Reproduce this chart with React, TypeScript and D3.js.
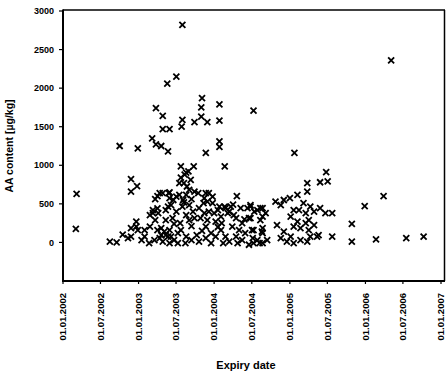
import React from "react";
import * as d3 from "d3";

// Expiry date as decimal year, AA content in µg/kg
const points: [number, number][] = [
  [2002.18, 630], [2002.17, 175],
  [2003.58, 2820], [2003.50, 2150], [2003.38, 2060],
  [2003.84, 1870], [2004.07, 1790], [2003.83, 1750], [2003.23, 1740], [2003.32, 1640],
  [2003.83, 1630], [2004.07, 1580], [2003.91, 1560], [2003.74, 1560], [2003.58, 1590],
  [2003.57, 1500], [2003.32, 1470], [2003.41, 1470],
  [2002.75, 1250], [2002.99, 1220], [2003.18, 1350], [2003.23, 1270], [2003.30, 1250],
  [2003.39, 1180], [2004.07, 1310], [2004.07, 1240], [2003.89, 1160], [2004.52, 1710],
  [2005.06, 1160], [2005.48, 910], [2005.40, 780], [2005.50, 790], [2005.23, 770],
  [2006.24, 600], [2005.99, 470], [2005.82, 240], [2005.56, 75], [2005.82, 10],
  [2006.14, 40], [2006.54, 55], [2006.77, 75], [2006.34, 2360],
  [2002.90, 820], [2002.98, 730], [2002.90, 660],
  [2003.25, 600], [2003.32, 640], [2003.41, 650],
  [2003.19, 380], [2003.25, 440],
  [2002.97, 270], [2002.99, 160], [2002.97, 205], [2002.90, 185],
  [2002.79, 100], [2002.86, 55], [2002.90, 75],
  [2002.62, 10], [2002.71, 0],
  [2003.04, 30], [2003.08, 75], [2003.14, -10], [2003.21, 30], [2003.28, 55], [2003.32, 10],
  [2003.39, 75], [2003.41, -10], [2003.47, 30], [2003.52, -10],
  [2003.30, 185], [2003.34, 140], [2003.41, 160], [2003.36, 95], [2003.43, 75], [2003.30, 95],
  [2003.25, 160], [2003.15, 205], [2003.08, 160],
  [2003.56, 160], [2003.63, 75], [2003.70, 30], [2003.62, -10], [2003.77, 95], [2003.80, 10],
  [2003.89, 205], [2003.96, 120], [2003.89, 55], [2004.02, 75], [2003.96, -10],
  [2004.09, 160], [2004.15, 75], [2004.12, -10], [2004.20, 10], [2004.29, 75], [2004.31, -10],
  [2004.37, 30], [2004.46, -30], [2004.41, 120],
  [2004.52, 160], [2004.57, 30], [2004.64, 120], [2004.64, -10], [2004.52, -10],
  [2003.56, 985], [2003.73, 985], [2004.14, 985], [2003.63, 905], [2003.56, 840], [2003.60, 770],
  [2003.54, 770], [2004.30, 600], [2003.28, 640], [2003.41, 575], [2003.22, 560],
  [2003.67, 680], [2003.74, 660], [2003.63, 615], [2003.54, 615], [2003.59, 550],
  [2003.89, 640], [2003.98, 595], [2003.87, 575], [2003.91, 530],
  [2004.07, 465], [2004.15, 445], [2004.22, 465], [2004.20, 400],
  [2004.48, 465], [2004.61, 445], [2004.64, 335], [2004.48, 315], [2004.53, 400],
  [2003.19, 420], [2003.15, 355], [2003.22, 290], [2003.26, 380],
  [2003.36, 420], [2003.43, 485], [2003.50, 400], [2003.45, 315], [2003.36, 290],
  [2003.58, 465], [2003.67, 485], [2003.72, 400], [2003.63, 355], [2003.74, 315], [2003.67, 290],
  [2003.80, 445], [2003.87, 380], [2003.93, 400], [2003.82, 315], [2003.91, 290],
  [2004.00, 380], [2004.09, 335], [2004.02, 270],
  [2004.29, 315], [2004.37, 250], [2004.24, 205], [2004.33, 160],
  [2003.61, 880], [2003.66, 920], [2003.69, 810], [2003.64, 725],
  [2003.40, 640], [2003.46, 550], [2003.39, 465], [2003.50, 595],
  [2003.79, 640], [2003.86, 510], [2003.93, 640], [2003.98, 510],
  [2004.05, 420], [2004.14, 465], [2004.25, 490], [2004.18, 380], [2004.26, 355],
  [2004.35, 445], [2004.44, 445],
  [2003.47, 240], [2003.55, 250], [2003.70, 210], [2003.84, 150], [2004.05, 200],
  [2003.52, 120], [2003.60, 520], [2003.70, 560], [2004.10, 250], [2004.40, 300],
  [2005.23, 660], [2005.10, 615], [2005.00, 575], [2004.92, 550], [2004.81, 530], [2004.88, 485],
  [2005.18, 510], [2005.27, 465], [2005.12, 420], [2005.21, 380], [2005.32, 400], [2005.40, 445],
  [2005.47, 380], [2005.56, 380],
  [2004.48, 485], [2004.57, 420], [2004.64, 445], [2004.68, 380], [2004.46, 315], [2004.61, 290],
  [2004.64, 185],
  [2005.05, 420], [2005.01, 335], [2005.10, 270], [2005.05, 205], [2005.14, 185], [2005.21, 250],
  [2005.25, 160], [2005.32, 225], [2005.38, 95], [2005.25, 290],
  [2004.83, 225], [2004.92, 140], [2005.01, 75], [2004.88, 55], [2004.96, 10], [2005.05, -10],
  [2005.14, 30], [2005.23, 10], [2005.27, 75], [2005.36, 75],
  [2004.50, 160], [2004.51, 55], [2004.60, -10], [2004.70, 30], [2004.63, 140],
];

const yTicks = [0, 500, 1000, 1500, 2000, 2500, 3000];
const xTickLabels = [
  "01.01.2002", "01.07.2002", "01.01.2003", "01.07.2003", "01.01.2004",
  "01.07.2004", "01.01.2005", "01.07.2005", "01.01.2006", "01.07.2006", "01.01.2007",
];
const yDomain = [-500, 3000];

const parseLabel = (s: string) => {
  const [dd, mm, yyyy] = s.split(".").map(Number);
  return new Date(yyyy, mm - 1, dd);
};
const fromDecimal = (y: number) => {
  const yr = Math.floor(y);
  const start = new Date(yr, 0, 1).getTime();
  const end = new Date(yr + 1, 0, 1).getTime();
  return new Date(start + (y - yr) * (end - start));
};

const FONT = "'Liberation Sans', Arial, sans-serif";

export default function App() {
  const left = 63, right = 441, top = 11, bottom = 281;
  const x = d3.scaleTime().domain([new Date(2002, 0, 1), new Date(2007, 0, 1)]).range([left, right]);
  const y = d3.scaleLinear().domain(yDomain).range([bottom, top]);
  const s = 3;

  return (
    <svg width={446} height={375} style={{ position: "absolute", left: 0, top: 0, background: "#fff" }}>
      <rect x={0} y={0} width={446} height={375} fill="#fff" />
      {/* frame */}
      <line x1={left} x2={445} y1={top - 1} y2={top - 1} stroke="#000" strokeWidth={1.5} />
      <line x1={444.5} x2={444.5} y1={top - 1} y2={bottom} stroke="#000" strokeWidth={1.5} />
      <line x1={left} x2={left} y1={top - 1.5} y2={bottom + 1} stroke="#000" strokeWidth={2} />
      <line x1={left - 1} x2={445} y1={bottom} y2={bottom} stroke="#000" strokeWidth={2} />
      {/* y ticks */}
      {yTicks.map((t) => (
        <g key={t}>
          <line x1={left - 4} x2={left} y1={y(t)} y2={y(t)} stroke="#000" strokeWidth={1.2} />
          <text x={left - 9} y={y(t)} dy="0.35em" textAnchor="end" fontFamily={FONT} fontSize={9} fontWeight="bold">
            {t}
          </text>
        </g>
      ))}
      {/* x ticks */}
      {xTickLabels.map((l) => {
        const xp = x(parseLabel(l));
        return (
          <g key={l}>
            <line x1={xp} x2={xp} y1={bottom} y2={bottom + 3} stroke="#000" strokeWidth={1.2} />
            <text
              transform={`translate(${xp + 3.2},${bottom + 12}) rotate(-90)`}
              textAnchor="end"
              fontFamily={FONT}
              fontSize={9.5}
              fontWeight="bold"
            >
              {l}
            </text>
          </g>
        );
      })}
      {/* points */}
      {points.map(([d, v], i) => {
        const cx = x(fromDecimal(d));
        const cy = y(v);
        return (
          <path
            key={i}
            d={`M${cx - s},${cy - s}L${cx + s},${cy + s}M${cx - s},${cy + s}L${cx + s},${cy - s}`}
            stroke="#000"
            strokeWidth={1.8}
            fill="none"
          />
        );
      })}
      {/* axis titles */}
      <text
        transform={`translate(13,${(top + bottom) / 2}) rotate(-90)`}
        textAnchor="middle"
        fontFamily={FONT}
        fontSize={10.5}
        fontWeight="bold"
      >
        AA content [µg/kg]
      </text>
      <text x={246} y={369} textAnchor="middle" fontFamily={FONT} fontSize={11} fontWeight="bold">
        Expiry date
      </text>
    </svg>
  );
}
